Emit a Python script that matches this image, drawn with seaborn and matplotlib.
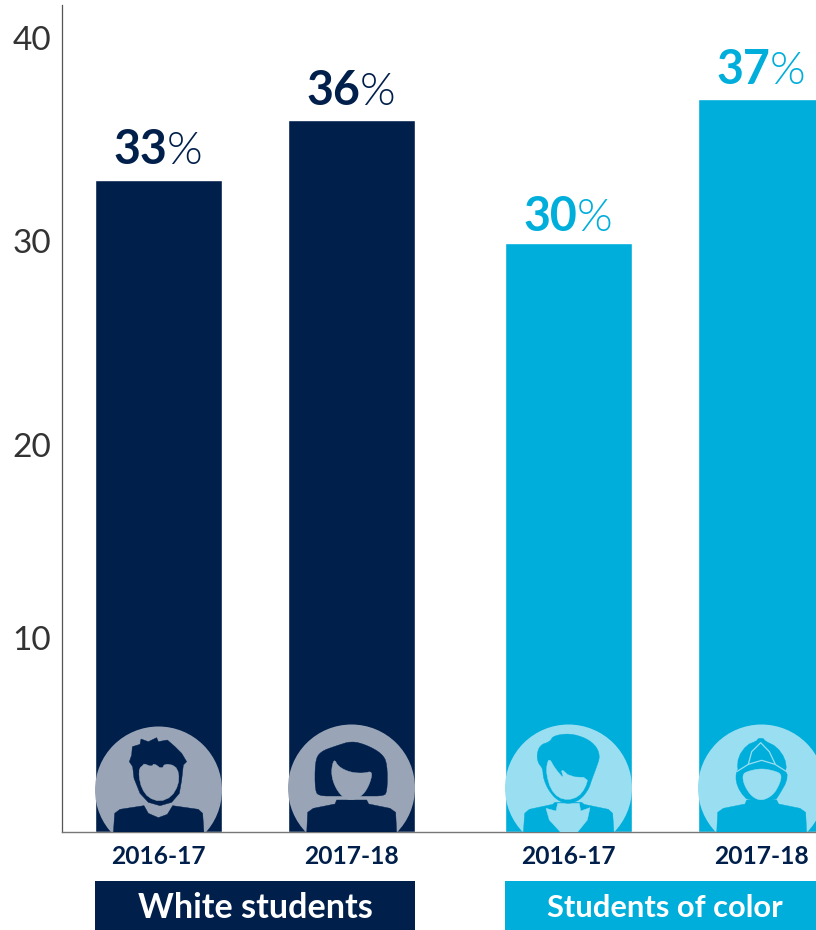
import matplotlib
matplotlib.use("Agg")
import matplotlib.pyplot as plt
import seaborn as sns
import pandas as pd
from matplotlib.patches import Polygon, Circle, Rectangle
from matplotlib.transforms import Affine2D, blended_transform_factory

years = ["2016-17", "2017-18", "2016-17", "2017-18"]
groups = ["White students", "White students", "Students of color", "Students of color"]
values = [32.95, 36.0, 29.8, 37.05]
value_labels = ["33", "36", "30", "37"]
y_tick_labels = ["10", "20", "30", "40"]

NAVY, CYAN = "#001F4B", "#00AEDB"
NAVY_L, CYAN_L = "#99A5B7", "#99DEF1"
W, H = 816, 930

sns.set_theme(style="white")
plt.rcParams["font.family"] = ["Lato", "DejaVu Sans"]

fig = plt.figure(figsize=(W / 100, H / 100), dpi=100)
ax = fig.add_axes([62 / W, (H - 832) / H, (W - 62) / W, (832 - 5) / H])

group_gap = 0.124
group_idx = [0, 0, 1, 1]
positions = [i + group_gap * g for i, g in enumerate(group_idx)]
df = pd.DataFrame({"pos": positions, "value": values, "group": groups})
sns.barplot(data=df, x="pos", y="value", hue="group", dodge=False, native_scale=True,
            palette={"White students": NAVY, "Students of color": CYAN},
            width=0.662, legend=False, ax=ax, saturation=1)

ax.set_xlim(-0.5, 3.407)
ax.set_ylim(0, 41.81)
ax.set_xlabel("")
ax.set_ylabel("")
for s in ("top", "right"):
    ax.spines[s].set_visible(False)
ax.spines["left"].set_color("#555555")
ax.spines["left"].set_linewidth(0.9)
ax.spines["bottom"].set_color("#777777")
ax.spines["bottom"].set_linewidth(1.0)

# the reference's axis labels sit slightly off an even spacing
ax.set_yticks([9.81, 19.57, 29.88, 40.14], y_tick_labels)
ax.tick_params(axis="y", length=0, pad=8, labelsize=24, labelcolor="#333333")
ax.set_xticks(positions, years)
ax.tick_params(axis="x", length=0, pad=9.2, labelsize=17.7, labelcolor=NAVY)
for t in ax.get_xticklabels():
    t.set_fontweight("bold")

# value labels: bold number + light percent sign
label_gap = [12, 11, 8.5, 11]
pct_dx = 6.5
for x, v, lab, col, gap in zip(positions, values, value_labels,
                               [NAVY, NAVY, CYAN, CYAN], label_gap):
    ax.annotate(lab, (x, v), xytext=(pct_dx, gap), textcoords="offset points",
                ha="right", va="baseline", fontsize=33.5, fontweight="bold", color=col)
    ax.annotate("%", (x, v), xytext=(pct_dx - 0.3, gap), textcoords="offset points",
                ha="left", va="baseline", fontsize=33, fontweight=300, color=col)

# group banners under the axis
tr = blended_transform_factory(ax.transData, Affine2D().scale(1, -1).translate(0, H))
half = 0.662 / 2
banners = [(positions[0] - half, positions[1] + half, NAVY, groups[0], 255.5, 24.6),
           (positions[2] - half, 3.5, CYAN, groups[2], 664.5, 22.2)]
px = Affine2D().scale(1, -1).translate(0, H)
for x0, x1, col, lab, cx, fs in banners:
    ax.add_patch(Rectangle((x0, 881), x1 - x0, 49, transform=tr, color=col, lw=0, clip_on=False))
    ax.text(cx, 908, lab, transform=px, color="white", fontsize=fs, fontweight="bold",
            ha="center", va="center")


# decorative avatars, outlined in reference pixels
def chaikin(points, n):
    for _ in range(n):
        out = []
        for i, (a, b) in enumerate(points):
            c, d = points[(i + 1) % len(points)]
            out += [(0.75 * a + 0.25 * c, 0.75 * b + 0.25 * d),
                    (0.25 * a + 0.75 * c, 0.25 * b + 0.75 * d)]
        points = out
    return points


def zpoly(points, origin, color, z=3, smooth=0):
    pts = [(origin[0] + a / 3, origin[1] + b / 3) for a, b in chaikin(points, smooth)]
    return ax.add_patch(Polygon(pts, closed=True, transform=px, facecolor=color,
                                edgecolor=color, lw=0.3, zorder=z))


def circle(cx, cy, color):
    ax.add_patch(Circle((cx, cy), 63.5, transform=px, facecolor=color, edgecolor="none", zorder=2.5))


O1 = (80, 715)
O2 = (490, 715)
BODY_M = [(100, 356), (104, 295), (120, 283), (192, 272), (205, 295), (235, 308), (262, 298),
          (278, 272), (355, 283), (368, 295), (372, 356)]
BODY_W = [(680, 356), (683, 292), (700, 280), (765, 267), (770, 255), (860, 255), (866, 267),
          (930, 280), (947, 292), (950, 356)]

# man
circle(158.5, 790, NAVY_L)
zpoly(BODY_M, O1, NAVY)
zpoly([(157, 95), (180, 88), (183, 72), (205, 80), (230, 68), (235, 80), (262, 75), (285, 95),
       (305, 115), (320, 140), (310, 150), (305, 195), (298, 235), (275, 262), (240, 272),
       (205, 262), (180, 235), (162, 190), (158, 155), (148, 140), (155, 120)], O1, NAVY)
zpoly([(178, 160), (190, 150), (192, 146), (215, 155), (222, 145), (245, 162), (255, 146),
       (285, 152), (297, 175), (295, 210), (275, 245), (240, 260), (205, 248), (185, 220),
       (177, 185)], O1, NAVY_L, z=3.2, smooth=1)

# woman, bob
circle(351.5, 788, NAVY_L)
zpoly(BODY_W, O1, NAVY)
zpoly([(705, 140), (720, 110), (770, 92), (815, 78), (860, 90), (905, 115), (922, 145), (922, 235),
       (905, 243), (865, 243), (770, 243), (720, 243), (705, 230)], O1, NAVY, smooth=2)
zpoly([(762, 130), (775, 155), (810, 172), (850, 175), (878, 168), (870, 205), (850, 240),
       (815, 258), (785, 245), (762, 210), (753, 170)], O1, NAVY_L, z=3.2, smooth=2)

# woman, bun
circle(568.5, 788, CYAN_L)
zpoly([(100, 356), (104, 295), (118, 283), (188, 268), (195, 262), (275, 262), (282, 268),
       (355, 283), (368, 295), (372, 356)], O2, CYAN)
zpoly([(168, 280), (198, 288), (203, 265), (268, 265), (272, 288), (300, 278), (292, 315),
       (262, 352), (212, 352), (178, 315)], O2, CYAN_L, z=3.1)
zpoly([(140, 120), (150, 90), (180, 80), (190, 62), (240, 55), (290, 70), (320, 95), (330, 125),
       (320, 155), (305, 195), (295, 225), (270, 255), (235, 268), (200, 255), (175, 225),
       (160, 190), (158, 160), (145, 145)], O2, CYAN, z=3.2, smooth=2)
zpoly([(178, 130), (195, 160), (222, 192), (212, 160), (240, 185), (295, 188), (285, 220),
       (265, 245), (235, 255), (205, 248), (182, 222), (170, 180), (170, 150)], O2, CYAN_L, z=3.3,
      smooth=1)

# person with cap
circle(761.5, 788, CYAN_L)
zpoly(BODY_W, O2, CYAN)
zpoly([(738, 175), (745, 160), (870, 155), (892, 172), (890, 200), (870, 235), (855, 258),
       (775, 258), (750, 230), (738, 200)], O2, CYAN, z=3.1, smooth=1)
zpoly([(742, 165), (745, 125), (770, 90), (800, 78), (805, 70), (820, 70), (825, 78), (860, 95),
       (885, 130), (890, 165), (875, 180), (815, 165), (755, 180)], O2, CYAN, z=3.2, smooth=1)
zpoly([(757, 178), (775, 168), (815, 160), (855, 168), (875, 178), (870, 205), (850, 240),
       (815, 258), (785, 245), (762, 210)], O2, CYAN_L, z=3.3, smooth=2)
for line in ([(740, 170), (775, 148), (815, 136), (855, 148), (890, 170)],
             [(775, 148), (785, 110), (812, 83), (838, 110), (856, 148)]):
    xs = [O2[0] + a / 3 for a, _ in line]
    ys = [O2[1] + b / 3 for _, b in line]
    ax.plot(xs, ys, color=CYAN_L, lw=0.9, transform=px, zorder=3.4)

fig.savefig("out.png", dpi=100)
